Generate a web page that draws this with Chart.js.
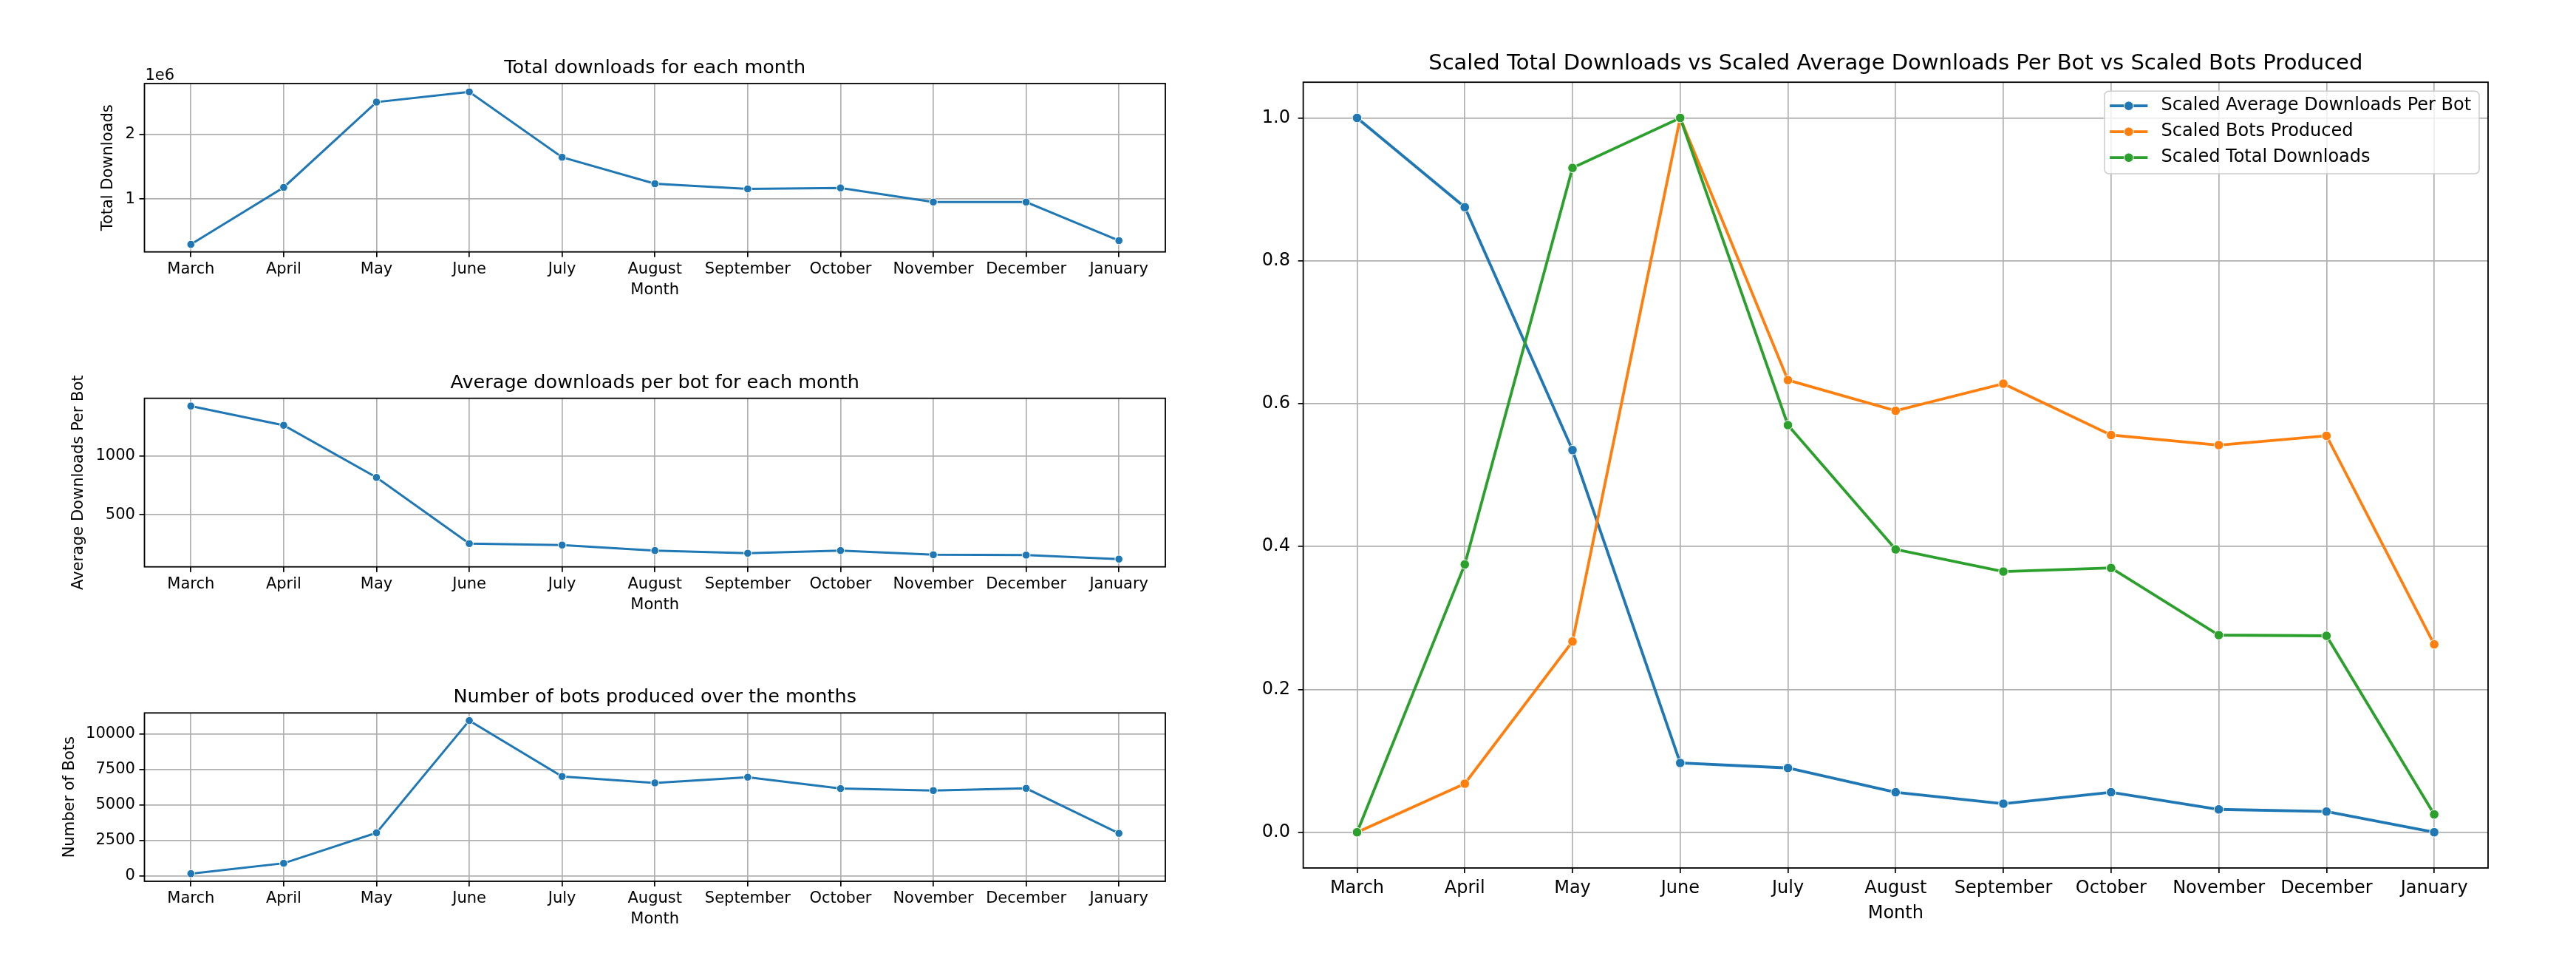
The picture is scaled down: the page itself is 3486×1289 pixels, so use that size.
<!DOCTYPE html>
<html>
<head>
<meta charset="utf-8">
<script src="https://cdn.jsdelivr.net/npm/chart.js@4.4.1/dist/chart.umd.min.js"></script>
<style>
  html, body { margin: 0; padding: 0; background: #fff; }
  body { width: 3486px; height: 1289px; position: relative; overflow: hidden; }
  .box { position: absolute; }
</style>
</head>
<body>
<div class="box" style="left:0;top:0;width:1650px;height:420px"><canvas id="totalChart"></canvas></div>
<div class="box" style="left:0;top:420px;width:1650px;height:420px"><canvas id="avgChart"></canvas></div>
<div class="box" style="left:0;top:870px;width:1650px;height:419px"><canvas id="botsChart"></canvas></div>
<div class="box" style="left:1650px;top:0;width:1836px;height:1289px"><canvas id="scaledChart"></canvas></div>
<script>
const months = ['March', 'April', 'May', 'June', 'July', 'August', 'September', 'October', 'November', 'December', 'January'];

const totalDownloads = [301000, 1180000, 2496000, 2653000, 1645000, 1237000, 1157000, 1172000, 954000, 954000, 359000];
const avgDownloadsPerBot = [1426, 1262, 817, 253, 241, 194, 171, 194, 158, 155, 121];
const botsProduced = [156, 886, 3033, 10938, 7004, 6548, 6952, 6148, 6008, 6164, 2996];

const scaledAvg = [1.0, 0.875, 0.535, 0.097, 0.090, 0.056, 0.040, 0.056, 0.032, 0.029, 0.0];
const scaledBots = [0.0, 0.068, 0.267, 1.0, 0.633, 0.590, 0.628, 0.556, 0.542, 0.555, 0.263];
const scaledTotal = [0.0, 0.375, 0.930, 1.0, 0.570, 0.396, 0.365, 0.370, 0.276, 0.275, 0.025];

const totalTicks = [1000000, 2000000];
const avgTicks = [500, 1000];
const botTicks = [0, 2500, 5000, 7500, 10000];
const scaledTicks = [0, 0.2, 0.4, 0.6, 0.8, 1.0];

const FONT = "'DejaVu Sans', sans-serif";
const BLUE = '#1f77b4', ORANGE = '#ff7f0e', GREEN = '#2ca02c';
const GRID = '#b0b0b0';

Chart.defaults.font.family = FONT;
Chart.defaults.color = '#000';

// black box round the plot area (matplotlib spines) + optional offset text
const framePlugin = {
  id: 'frame',
  afterDatasetsDraw(chart) {
    const a = chart.chartArea, ctx = chart.ctx;
    ctx.save();
    ctx.strokeStyle = '#000';
    ctx.lineWidth = 1.8;
    ctx.strokeRect(a.left, a.top, a.right - a.left, a.bottom - a.top);
    const off = chart.options.plugins.offsetText;
    if (off && off.text) {
      ctx.font = off.size + 'px ' + FONT;
      ctx.fillStyle = '#000';
      ctx.textBaseline = 'alphabetic';
      ctx.textAlign = 'left';
      ctx.fillText(off.text, a.left + 1, a.top - 5);
    }
    ctx.restore();
  }
};

// legend drawn inside the plot, top right, like matplotlib's
const innerLegend = {
  id: 'innerLegend',
  afterDatasetsDraw(chart) {
    const a = chart.chartArea, ctx = chart.ctx;
    const sets = chart.data.datasets;
    ctx.save();
    ctx.font = '24px ' + FONT;
    let tw = 0;
    sets.forEach(d => { tw = Math.max(tw, ctx.measureText(d.label).width); });
    const w = 76.7 + tw + 10.9, h = 111.7, row = 35;
    const x = a.right - 12 - w, y = a.top + 12;
    ctx.beginPath();
    ctx.roundRect(x, y, w, h, 6);
    ctx.fillStyle = 'rgba(255,255,255,0.8)';
    ctx.fill();
    ctx.strokeStyle = '#cccccc';
    ctx.lineWidth = 1.5;
    ctx.stroke();
    sets.forEach((d, i) => {
      const cy = y + 20 + i * row;
      ctx.strokeStyle = d.borderColor;
      ctx.lineWidth = 3.8;
      ctx.beginPath();
      ctx.moveTo(x + 7.2, cy);
      ctx.lineTo(x + 58.4, cy);
      ctx.stroke();
      ctx.beginPath();
      ctx.arc(x + 32.8, cy, 6.3, 0, Math.PI * 2);
      ctx.fillStyle = d.borderColor;
      ctx.fill();
      ctx.strokeStyle = '#fff';
      ctx.lineWidth = 1;
      ctx.stroke();
      ctx.fillStyle = '#000';
      ctx.textBaseline = 'middle';
      ctx.textAlign = 'left';
      ctx.fillText(d.label, x + 76.7, cy);
    });
    ctx.restore();
  }
};

function series(label, data, color, lw, r, order) {
  return {
    label: label,
    data: data,
    borderColor: color,
    backgroundColor: color,
    borderWidth: lw,
    tension: 0,
    pointRadius: r,
    pointHoverRadius: r,
    pointBackgroundColor: color,
    pointBorderColor: '#fff',
    pointBorderWidth: 1,
    order: order || 0
  };
}

function makeChart(id, o) {
  return new Chart(document.getElementById(id), {
    type: 'line',
    data: { labels: months, datasets: o.datasets },
    options: {
      responsive: true,
      maintainAspectRatio: false,
      animation: false,
      devicePixelRatio: 1,
      layout: { padding: { top: o.padTop, right: o.padRight, left: 0, bottom: 0 } },
      plugins: {
        legend: { display: false },
        tooltip: { enabled: false },
        offsetText: o.offsetText || {},
        title: {
          display: true,
          text: o.title,
          fullSize: false,
          color: '#000',
          font: { family: FONT, size: o.titleSize, weight: 'normal', lineHeight: 1.2 },
          padding: { top: 0, bottom: o.titleGap }
        }
      },
      scales: {
        x: {
          offset: true,
          grid: { color: GRID, lineWidth: 1.7, offset: false, tickColor: '#000', tickLength: 7, tickWidth: 1.7 },
          border: { display: false },
          ticks: { autoSkip: false, maxRotation: 0, minRotation: 0, padding: o.xPad, font: { size: o.tickSize }, color: '#000' },
          title: { display: true, text: 'Month', font: { size: o.tickSize }, color: '#000', padding: { top: 0, bottom: o.monthPad } },
          afterFit: s => { s.height = o.xHeight; }
        },
        y: {
          min: o.min,
          max: o.max,
          grid: { color: GRID, lineWidth: 1.7, tickColor: '#000', tickLength: 7, tickWidth: 1.7 },
          border: { display: false },
          afterBuildTicks: s => { s.ticks = o.ticks.map(v => ({ value: v })); },
          ticks: { padding: o.yPad, font: { size: o.tickSize }, color: '#000', callback: o.fmt },
          title: { display: !!o.yTitle, text: o.yTitle || '', font: { size: o.tickSize }, color: '#000', padding: { top: o.yTitlePad || 0, bottom: 0 } },
          afterFit: s => { s.width = o.yWidth; }
        }
      }
    },
    plugins: o.plugins
  });
}

makeChart('totalChart', {
  datasets: [series('Total Downloads', totalDownloads, BLUE, 3, 5.3)],
  title: 'Total downloads for each month', titleSize: 25.5, padTop: 77.2, titleGap: 5.2,
  padRight: 73, yWidth: 195.5, xHeight: 79.3, tickSize: 21, xPad: 4, yPad: 5.6, monthPad: 14.9,
  min: 185000, max: 2782000, ticks: totalTicks, fmt: v => String(v / 1000000),
  yTitle: 'Total Downloads', yTitlePad: 134.4,
  offsetText: { text: '1e6', size: 21 },
  plugins: [framePlugin]
});

makeChart('avgChart', {
  datasets: [series('Average Downloads Per Bot', avgDownloadsPerBot, BLUE, 3, 5.3)],
  title: 'Average downloads per bot for each month', titleSize: 25.5, padTop: 83, titleGap: 5.1,
  padRight: 73, yWidth: 195.5, xHeight: 73.3, tickSize: 21, xPad: 4, yPad: 5.6, monthPad: 9.1,
  min: 55, max: 1492, ticks: avgTicks, fmt: v => String(v),
  yTitle: 'Average Downloads Per Bot', yTitlePad: 93.7,
  plugins: [framePlugin]
});

makeChart('botsChart', {
  datasets: [series('Number of Bots', botsProduced, BLUE, 3, 5.3)],
  title: 'Number of bots produced over the months', titleSize: 25.5, padTop: 58, titleGap: 5.7,
  padRight: 73, yWidth: 195.5, xHeight: 97, tickSize: 21, xPad: 3.5, yPad: 5.6, monthPad: 32.4,
  min: -383, max: 11477, ticks: botTicks, fmt: v => String(v),
  yTitle: 'Number of Bots', yTitlePad: 82.1,
  plugins: [framePlugin]
});

makeChart('scaledChart', {
  datasets: [
    series('Scaled Average Downloads Per Bot', scaledAvg, BLUE, 3.8, 6.3, 2),
    series('Scaled Bots Produced', scaledBots, ORANGE, 3.8, 6.3, 1),
    series('Scaled Total Downloads', scaledTotal, GREEN, 3.8, 6.3, 0)
  ],
  title: 'Scaled Total Downloads vs Scaled Average Downloads Per Bot vs Scaled Bots Produced',
  titleSize: 29, padTop: 69.1, titleGap: 7.3,
  padRight: 119, yWidth: 113.6, xHeight: 115, tickSize: 24, xPad: 6, yPad: 10.7, monthPad: 39.2,
  min: -0.05, max: 1.05, ticks: scaledTicks, fmt: v => v.toFixed(1),
  plugins: [framePlugin, innerLegend]
});
</script>
</body>
</html>
